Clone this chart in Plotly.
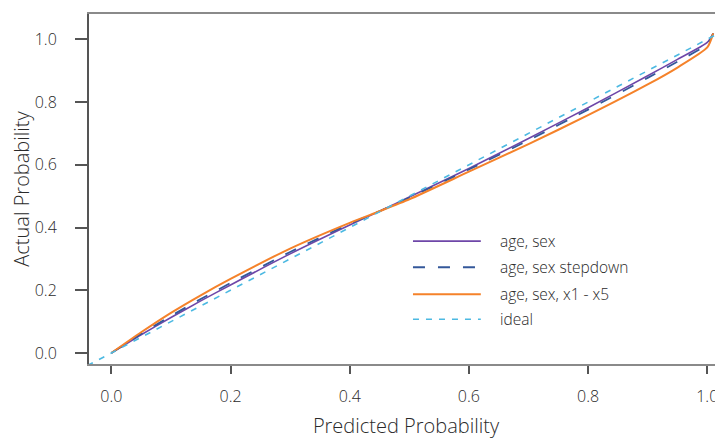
import plotly.graph_objects as go

# ---- data ----
pred_x = [0.0, 0.05, 0.1, 0.15, 0.2, 0.3, 0.4, 0.45, 0.5, 0.6, 0.7, 0.8, 0.9, 0.95, 1.0, 1.01]
age_sex = [0.0, 0.058, 0.113, 0.166, 0.217, 0.316, 0.408, 0.452, 0.497, 0.588, 0.684, 0.782, 0.884, 0.936, 0.99, 1.019]
age_sex_stepdown = [0.0, 0.061, 0.118, 0.172, 0.223, 0.322, 0.412, 0.452, 0.495, 0.585, 0.678, 0.776, 0.877, 0.929, 0.984, 1.019]
age_sex_x1_x5 = [0.0, 0.066, 0.128, 0.184, 0.236, 0.333, 0.415, 0.452, 0.49, 0.578, 0.666, 0.758, 0.856, 0.91, 0.974, 1.019]
ideal_x = [-0.04, 1.016]
ideal_y = [-0.04, 1.016]

tick_vals = [0.0, 0.2, 0.4, 0.6, 0.8, 1.0]
tick_text = ["0.0", "0.2", "0.4", "0.6", "0.8", "1.0"]

series_names = ["age, sex", "age, sex stepdown", "age, sex, x1 - x5", "ideal"]
series_colors = ["#6E46A8", "#34589A", "#F5822A", "#4CB9E2"]
series_dash = ["solid", "12px,13px", "solid", "6px,7px"]
series_width = [1.6, 1.8, 2, 1.6]

FONT = "Open Sans"
TXT = "#2a2a2a"

fig = go.Figure()
ys = [age_sex, age_sex_stepdown, age_sex_x1_x5]
for name, yv, c, d, w in zip(series_names[:3], ys, series_colors[:3], series_dash[:3], series_width[:3]):
    fig.add_trace(go.Scatter(x=pred_x, y=yv, mode="lines", name=name,
                             line=dict(color=c, dash=d, width=w, shape="spline", smoothing=0.6),
                             showlegend=False))
fig.add_trace(go.Scatter(x=ideal_x, y=ideal_y, mode="lines", name=series_names[3],
                         line=dict(color=series_colors[3], dash=series_dash[3], width=series_width[3]),
                         showlegend=False))

# manual legend (paper coordinates)
leg_x0, leg_x1, leg_tx = 0.511, 0.618, 0.645
leg_rows = [0.351, 0.2765, 0.199, 0.128]
for name, c, d, w, yy in zip(series_names, series_colors, series_dash, series_width, leg_rows):
    fig.add_shape(type="line", xref="paper", yref="paper", x0=leg_x0, x1=leg_x1, y0=yy, y1=yy,
                  line=dict(color=c, dash=d, width=w))
    fig.add_annotation(xref="paper", yref="paper", x=leg_tx, y=yy, text=name, showarrow=False,
                       xanchor="left", yanchor="middle",
                       font=dict(family=FONT, size=15.5, color=TXT, weight=300))

# page body has an 8px margin: figure 715x431 fills the 723x439 window
fig.update_layout(
    width=715, height=431,
    margin=dict(l=81, r=0, t=6, b=75),
    paper_bgcolor="white", plot_bgcolor="white",
    font=dict(family=FONT, color=TXT, size=15, weight=300),
)
fig.update_xaxes(range=[-0.0375, 1.0264], tickvals=tick_vals, ticktext=tick_text,
                 showgrid=False, zeroline=False, showline=True, linecolor="#8a8a8a", linewidth=2,
                 mirror=True, ticks="outside", ticklen=8, tickwidth=2, tickcolor="#555555",
                 ticklabelstandoff=9,
                 tickfont=dict(family=FONT, size=16, color=TXT, weight=300),
                 title=dict(text="Predicted Probability",
                            font=dict(family=FONT, size=20, color=TXT, weight=300), standoff=14))
fig.update_yaxes(range=[-0.0351, 1.0807], tickvals=tick_vals, ticktext=tick_text,
                 showgrid=False, zeroline=False, showline=True, linecolor="#555555", linewidth=2,
                 mirror=False, ticks="outside", ticklen=12, tickwidth=2, tickcolor="#555555",
                 ticklabelstandoff=15,
                 tickfont=dict(family=FONT, size=16, color=TXT, weight=300),
                 title=dict(text="Actual Probability",
                            font=dict(family=FONT, size=20, color=TXT, weight=300), standoff=1))

fig.write_html("out.html")
